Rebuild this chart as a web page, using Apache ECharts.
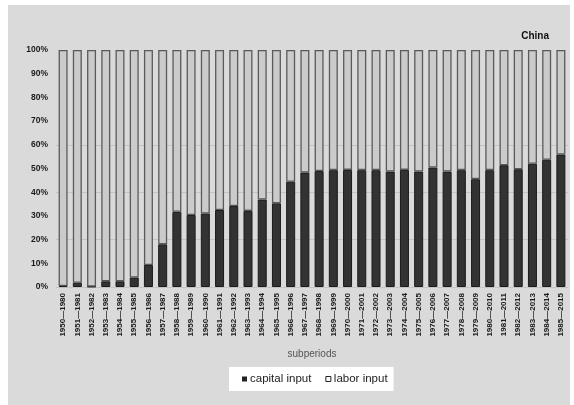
<!DOCTYPE html>
<html>
<head>
<meta charset="utf-8">
<script src="https://cdn.jsdelivr.net/npm/echarts@6/dist/echarts.min.js"></script>
<style>
html,body{margin:0;padding:0;background:#fff;}
#chart{width:574px;height:405px;}
</style>
</head>
<body>
<div id="chart"></div>
<script>
var categories = ['1950—1980','1951—1981','1952—1982','1953—1983','1954—1984','1955—1985','1956—1986','1957—1987','1958—1988','1959—1989','1960—1990','1961—1991','1962—1992','1963—1993','1964—1994','1965—1995','1966—1996','1967—1997','1968—1998','1969—1999','1970—2000','1971—2001','1972—2002','1973—2003','1974—2004','1975—2005','1976—2006','1977—2007','1978—2008','1979—2009','1980—2010','1981—2011','1982—2012','1983—2013','1984—2014','1985—2015'];
var capitalInput = [0.4, 1.8, 0.2, 2.4, 2.4, 4.0, 9.3, 18.0, 31.7, 30.4, 31.0, 32.5, 34.2, 32.1, 36.9, 35.3, 44.4, 48.3, 48.9, 49.3, 49.4, 49.3, 49.3, 48.7, 49.4, 48.7, 50.4, 48.7, 49.3, 45.5, 49.3, 51.4, 49.7, 52.0, 53.7, 55.9];
var laborInput = [99.6, 98.2, 99.8, 97.6, 97.6, 96.0, 90.7, 82.0, 68.3, 69.6, 69.0, 67.5, 65.8, 67.9, 63.1, 64.7, 55.6, 51.7, 51.1, 50.7, 50.6, 50.7, 50.7, 51.3, 50.6, 51.3, 49.6, 51.3, 50.7, 54.5, 50.7, 48.6, 50.3, 48.0, 46.3, 44.1];
var yTicks = [0, 10, 20, 30, 40, 50, 60, 70, 80, 90, 100];

var FONT = '"Liberation Sans", Arial, sans-serif';
var chart = echarts.init(document.getElementById('chart'), null, {renderer: 'canvas'});
var gridColors = yTicks.map(function (v) {
  return (v === 20 || v === 40 || v === 60) ? '#c4c4c4' : 'rgba(0,0,0,0)';
});
chart.setOption({
  animation: false,
  backgroundColor: '#ffffff',
  graphic: [{
    type: 'rect', left: 8, top: 5, z: -10,
    shape: {width: 562, height: 400},
    style: {fill: '#dadada'}
  }],
  title: {
    text: 'China', right: 20, top: 26,
    textStyle: {fontFamily: FONT, fontSize: 10, fontWeight: 'bold', color: '#111'}
  },
  grid: {left: 56, right: 6, top: 50, bottom: 118, containLabel: false},
  legend: {
    left: 229, top: 367,
    backgroundColor: '#ffffff',
    padding: [6, 6, 6, 13],
    itemGap: 14,
    itemWidth: 5, itemHeight: 5,
    textStyle: {fontFamily: FONT, fontSize: 11.5, color: '#222', padding: [0, 0, 0, -2]},
    data: [
      {name: 'capital input', icon: 'rect', itemStyle: {color: '#222', borderWidth: 0}},
      {name: 'labor input', icon: 'rect', itemStyle: {color: '#ffffff', borderColor: '#222', borderWidth: 1}}
    ]
  },
  xAxis: {
    type: 'category',
    data: categories,
    name: 'subperiods',
    nameLocation: 'middle',
    nameGap: 62,
    nameTextStyle: {fontFamily: FONT, fontSize: 10, color: '#555'},
    axisLine: {lineStyle: {color: '#c4c4c4'}},
    axisTick: {show: false},
    axisLabel: {
      interval: 0, rotate: 90, margin: 6,
      fontFamily: FONT, fontSize: 8, fontWeight: 'bold', color: '#1a1a1a'
    }
  },
  yAxis: {
    type: 'value', min: 0, max: 100, interval: 10,
    axisLine: {show: false},
    axisTick: {show: false},
    axisLabel: {
      formatter: '{value}%', margin: 8,
      fontFamily: FONT, fontSize: 8.5, fontWeight: 'bold', color: '#1a1a1a'
    },
    splitLine: {show: true, showMinLine: true, showMaxLine: true, lineStyle: {color: gridColors, width: 1}}
  },
  series: [
    {
      name: 'capital input', type: 'bar', stack: 'total',
      data: capitalInput, barWidth: 9,
      itemStyle: {color: '#333333', borderColor: '#1a1a1a', borderWidth: 1}
    },
    {
      name: 'labor input', type: 'bar', stack: 'total',
      data: laborInput, barWidth: 9,
      itemStyle: {color: '#cbcbcb', borderColor: '#5a5a5a', borderWidth: 1.3}
    }
  ]
});
</script>
</body>
</html>
